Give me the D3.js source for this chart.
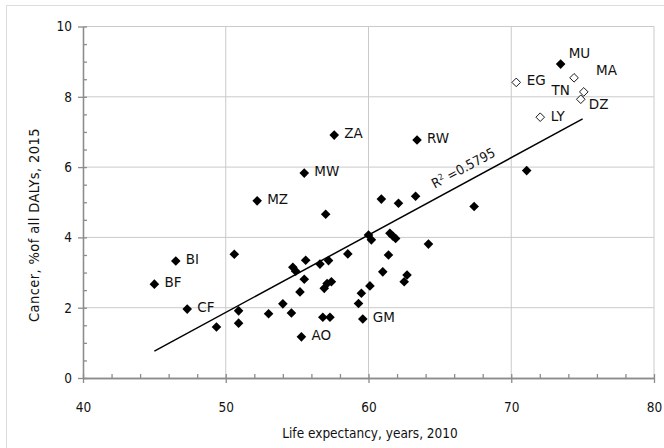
<!DOCTYPE html>
<html><head><meta charset="utf-8">
<script src="https://cdn.jsdelivr.net/npm/d3@7"></script>
<style>body{margin:0;background:#fff}svg{display:block}</style>
</head><body><svg id="c" width="664" height="448"></svg>
<script>
// ---- data ----
const filledCode = ["BF","BI","CF","MZ","MW","ZA","RW","AO","GM","MU","",
  "","","","","","","","","","","","","","","","","","","","",
  "","","","","","","","","","","","","","","","","",""];
const filledX = [45.0,46.5,47.3,52.2,55.5,57.6,63.4,55.3,59.6,73.46,71.08,
  57.0,50.6,54.7,54.9,55.6,56.6,57.2,55.5,55.2,56.9,57.1,57.4,54.0,50.9,53.0,54.6,50.9,49.35,56.8,57.3,
  60.9,62.1,63.3,67.4,60.0,60.2,61.5,61.7,61.9,64.2,58.55,61.4,61.0,62.7,62.5,60.1,59.5,59.3];
const filledY = [2.67,3.33,1.96,5.04,5.83,6.91,6.77,1.17,1.68,8.93,5.90,
  4.66,3.52,3.15,3.04,3.35,3.24,3.34,2.81,2.45,2.55,2.69,2.74,2.11,1.91,1.83,1.85,1.56,1.45,1.73,1.73,
  5.09,4.97,5.17,4.88,4.07,3.93,4.12,4.04,3.97,3.81,3.53,3.50,3.02,2.93,2.74,2.62,2.41,2.12];
const hollowCode = ["EG","MA","TN","DZ","LY"];
const hollowX = [70.35,74.40,75.08,74.87,72.03];
const hollowY = [8.41,8.54,8.14,7.93,7.42];
const trendX = [45.0, 75.0];
const trendY = [0.765, 7.37];
const r2Value = "0.5795";
const xTicks = [40,50,60,70,80];
const yTicks = [0,2,4,6,8,10];
const xTitle = "Life expectancy, years, 2010";
const yTitle = "Cancer, %of all DALYs, 2015";

// ---- layout / style ----
const W = 664, H = 448;
const m = {left:83, right:10, top:26.5, bottom:70};
const labelNudge = {MU:[8,-6,"start"], MA:[22,-3,"start"], TN:[-14,3,"end"], DZ:[8,10,"start"],
                    EG:[10.5,3,"start"], LY:[10.5,3.5,"start"]};
const svg = d3.select("#c");
const x = d3.scaleLinear().domain([40,80]).range([m.left, W-m.right]);
const y = d3.scaleLinear().domain([0,10]).range([H-m.bottom, m.top]);
const axisCol = "#8c8c8c", gridCol = "#cacaca", txtCol = "#111";

svg.append("rect").attr("x",6.5).attr("y",5.5).attr("width",W).attr("height",H)
  .attr("fill","none").attr("stroke","#dcdcdc");

// grid
svg.append("g").selectAll("line").data(xTicks.slice(1)).join("line")
  .attr("x1",d=>x(d)).attr("x2",d=>x(d)).attr("y1",y(0)).attr("y2",y(10))
  .attr("stroke",gridCol).attr("stroke-width",1);
svg.append("g").selectAll("line").data(yTicks.slice(1)).join("line")
  .attr("x1",x(40)).attr("x2",x(80)).attr("y1",d=>y(d)).attr("y2",d=>y(d))
  .attr("stroke",gridCol).attr("stroke-width",1);

// axes
const font = "'DejaVu Sans Condensed','DejaVu Sans',sans-serif";
const gy = svg.append("g").attr("transform",`translate(${m.left},0)`)
  .call(d3.axisLeft(y).tickValues(yTicks).tickSize(5).tickSizeOuter(0).tickPadding(6));
const gym = svg.append("g").attr("transform",`translate(${m.left},0)`)
  .call(d3.axisRight(y).tickValues(d3.range(0,10.01,0.5)).tickSize(4).tickSizeOuter(0).tickFormat(""));
const gx = svg.append("g").attr("transform",`translate(0,${y(0)})`)
  .call(d3.axisBottom(x).tickValues(xTicks).tickSize(5).tickSizeOuter(0).tickPadding(19));
const gxm = svg.append("g").attr("transform",`translate(0,${y(0)})`)
  .call(d3.axisTop(x).tickValues(d3.range(40,80.01,2)).tickSize(4).tickSizeOuter(0).tickFormat(""));
[gy,gym,gx,gxm].forEach(g=>{
  g.selectAll("path,line").attr("stroke",axisCol).attr("stroke-width",1.3);
  g.selectAll("text").attr("fill",txtCol).style("font-family",font).style("font-size","13.5px");
});

// axis titles
svg.append("text").attr("x",370).attr("y",438).attr("text-anchor","middle")
  .style("font-family",font).style("font-size","13.5px").attr("fill",txtCol).text(xTitle);
svg.append("text").attr("transform","translate(39,225) rotate(-90)").attr("text-anchor","middle")
  .style("font-family",font).style("font-size","14.5px").style("letter-spacing","0.4px")
  .attr("fill",txtCol).text(yTitle);

// trend line
svg.append("line").attr("x1",x(trendX[0])).attr("y1",y(trendY[0]))
  .attr("x2",x(trendX[1])).attr("y2",y(trendY[1])).attr("stroke","#000").attr("stroke-width",1.5);
const ang = Math.atan2(y(trendY[1])-y(trendY[0]), x(trendX[1])-x(trendX[0]))*180/Math.PI;
const lx = 67.1, ly = trendY[0] + (trendY[1]-trendY[0])*(lx-trendX[0])/(trendX[1]-trendX[0]);
const r2 = svg.append("text").attr("text-anchor","middle")
  .attr("transform",`translate(${x(lx)},${y(ly)}) rotate(${ang}) translate(0,-9)`)
  .style("font-family",font).style("font-size","13.5px").attr("fill",txtCol);
r2.append("tspan").text("R");
r2.append("tspan").attr("dy",-5).style("font-size","8.5px").text("2");
r2.append("tspan").attr("dy",5).text(" =" + r2Value);

// points
const dia = r => `M0,${-r}L${r},0L0,${r}L${-r},0Z`;
const filled = filledX.map((v,i)=>({x:v,y:filledY[i],c:filledCode[i]}));
const hollow = hollowX.map((v,i)=>({x:v,y:hollowY[i],c:hollowCode[i]}));
svg.append("g").selectAll("path").data(filled).join("path")
  .attr("d",dia(4.8)).attr("transform",d=>`translate(${x(d.x)},${y(d.y)})`).attr("fill","#000");
svg.append("g").selectAll("path").data(hollow).join("path")
  .attr("d",dia(4.3)).attr("transform",d=>`translate(${x(d.x)},${y(d.y)})`)
  .attr("fill","#fff").attr("stroke","#000").attr("stroke-width",0.9);

// labels
svg.append("g").selectAll("text").data(filled.concat(hollow).filter(d=>d.c)).join("text")
  .attr("x",d=>x(d.x)+(labelNudge[d.c]?labelNudge[d.c][0]:10))
  .attr("y",d=>y(d.y)+(labelNudge[d.c]?labelNudge[d.c][1]:3))
  .attr("text-anchor",d=>labelNudge[d.c]?labelNudge[d.c][2]:"start")
  .style("font-family","'DejaVu Sans',sans-serif").style("font-size","13.5px").attr("fill",txtCol)
  .text(d=>d.c);
</script></body></html>
